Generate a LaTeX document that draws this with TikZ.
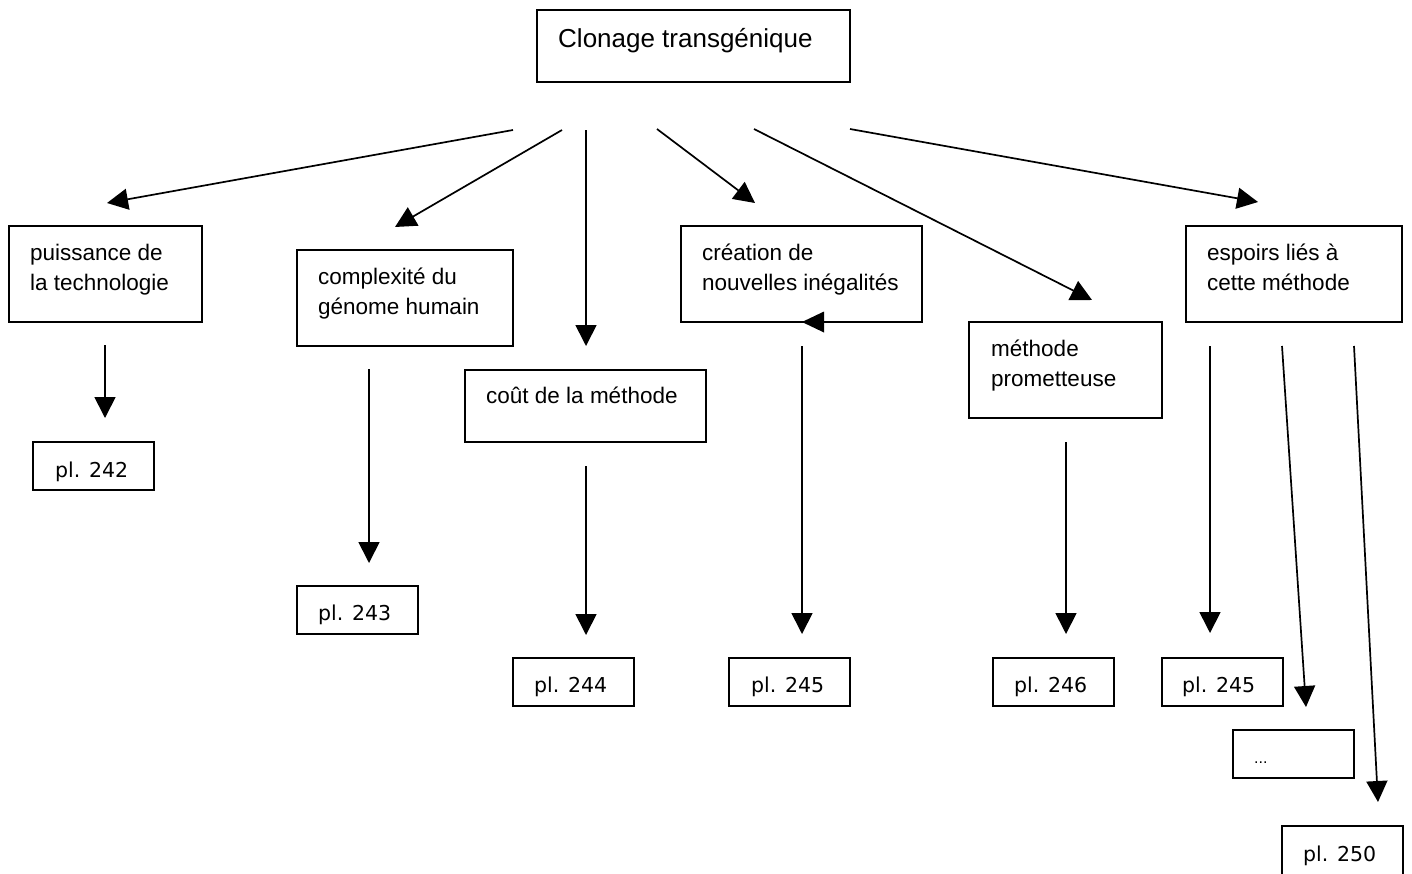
\documentclass[tikz,border=0pt]{standalone}
\usepackage{fontspec}
\setmainfont{Liberation Sans}
\newfontfamily\plfont{DejaVu Sans}
\usetikzlibrary{arrows.meta,calc}
\tikzset{
  boxst/.style={draw, line width=2pt, rectangle, inner sep=0pt, outer sep=0pt, anchor=north west},
  plbox/.style={boxst, minimum width=121pt, minimum height=48pt},
  txt/.style={anchor=base west, inner sep=0pt, font=\fontsize{22.5}{30}\selectfont},
  pltxt/.style={anchor=base west, inner sep=0pt, font=\plfont\fontsize{20.5}{24}\selectfont},
  arr/.style={line width=1.7pt, -{Triangle[length=21pt,width=21pt]}}
}
\begin{document}
\begin{tikzpicture}[x=1pt,y=-1pt]
\useasboundingbox (0,0) rectangle (1412,873);
% boxes
\node[boxst, minimum width=313pt, minimum height=72pt] (top) at (537,10) {};
\node[boxst, minimum width=193pt, minimum height=96pt] (puis) at (9,226) {};
\node[boxst, minimum width=216pt, minimum height=96pt] (comp) at (297,250) {};
\node[boxst, minimum width=241pt, minimum height=72pt] (cout) at (465,370) {};
\node[boxst, minimum width=241pt, minimum height=96pt] (crea) at (681,226) {};
\node[boxst, minimum width=193pt, minimum height=96pt] (meth) at (969,322) {};
\node[boxst, minimum width=216pt, minimum height=96pt] (espo) at (1186,226) {};
\node[plbox] (p242) at (33,442) {};
\node[plbox] (p243) at (297,586) {};
\node[plbox] (p244) at (513,658) {};
\node[plbox] (p245a) at (729,658) {};
\node[plbox] (p246) at (993,658) {};
\node[plbox] (p245b) at (1162,658) {};
\node[plbox] (pdots) at (1233,730) {};
\node[plbox, minimum height=52pt] (p250) at (1282,826) {};
% texts
\node[anchor=base west, inner sep=0pt, font=\fontsize{26}{30}\selectfont] (topt) at (558,47) {Clonage transgénique};
\node[txt] (puis1) at (30,260) {puissance de};
\node[txt] (puis2) at (30,290) {la technologie};
\node[txt] (comp1) at (318,284) {complexité du};
\node[txt] (comp2) at (318,314) {génome humain};
\node[txt] (cout1) at (486,403) {coût de la méthode};
\node[txt] (crea1) at (702,260) {création de};
\node[txt] (crea2) at (702,290) {nouvelles inégalités};
\node[txt] (meth1) at (991,356) {méthode};
\node[txt] (meth2) at (991,386) {prometteuse};
\node[txt] (espo1) at (1207,260) {espoirs liés à};
\node[txt] (espo2) at (1207,290) {cette méthode};
\node[pltxt] (t242) at (55,477) {pl. 242};
\node[pltxt] (t243) at (318,620) {pl. 243};
\node[pltxt] (t244) at (534,692) {pl. 244};
\node[pltxt] (t245a) at (751,692) {pl. 245};
\node[pltxt] (t246) at (1014,692) {pl. 246};
\node[pltxt] (t245b) at (1182,692) {pl. 245};
\node[anchor=base west, inner sep=0pt, font=\fontsize{16}{18}\selectfont] (tdots) at (1254,763) {...};
\node[pltxt] (t250) at (1303,861) {pl. 250};
% connector coordinates
\coordinate (s1) at (513,130); \coordinate (e1) at (107,203);
\coordinate (s2) at (562,130); \coordinate (e2) at (395,227);
\coordinate (s3) at (586,130); \coordinate (e3) at (586,346);
\coordinate (s4) at (657,129); \coordinate (e4) at (755,203);
\coordinate (s5) at (754,129); \coordinate (e5) at (1092,300);
\coordinate (s6) at (850,129); \coordinate (e6) at (1258,202);
\coordinate (s7) at (105,345); \coordinate (e7) at (105,418);
\coordinate (s8) at (369,369); \coordinate (e8) at (369,563);
\coordinate (s9) at (586,466); \coordinate (e9) at (586,635);
\coordinate (s10) at (802,346); \coordinate (e10) at (802,634);
\coordinate (s11) at (1066,442); \coordinate (e11) at (1066,634);
\coordinate (s12) at (1210,346); \coordinate (e12) at (1210,633);
\coordinate (s13) at (1282,346); \coordinate (e13) at (1306,707);
\coordinate (s14) at (1354,346); \coordinate (e14) at (1378,802);
\coordinate (st1) at (824,322); \coordinate (st2) at (802,322);
% connectors
\foreach \i in {1,...,14} { \draw[arr] (s\i) -- (e\i); }
% stray arrowhead at bottom of "création" box
\fill (st2) -- ($(st1)+(0,-10.5)$) -- ($(st1)+(0,10.5)$) -- cycle;
\end{tikzpicture}
\end{document}
